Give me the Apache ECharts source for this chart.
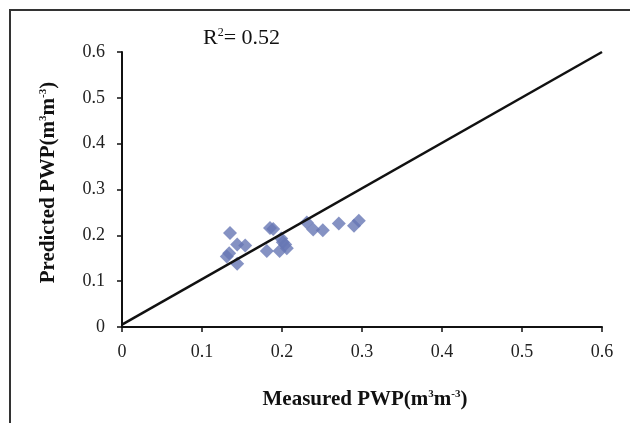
<!DOCTYPE html>
<html>
<head>
<meta charset="utf-8">
<script src="https://cdn.jsdelivr.net/npm/echarts@6/dist/echarts.min.js"></script>
<style>html,body{margin:0;padding:0;background:#fff}#c{width:630px;height:423px}</style>
</head>
<body>
<div id="c"></div>
<script>
var measured = [0.135,0.144,0.154,0.134,0.131,0.144,0.185,0.181,0.201,0.197,0.206,0.204,0.231,0.239,0.251,0.271,0.290,0.296,0.189,0.199];
var predicted = [0.205,0.180,0.178,0.161,0.154,0.138,0.216,0.166,0.185,0.166,0.172,0.180,0.228,0.213,0.211,0.226,0.221,0.232,0.214,0.193];
var oneToOneX = [0, 0.6];
var oneToOneY = [0.005, 0.6];
var ticks = [0, 0.1, 0.2, 0.3, 0.4, 0.5, 0.6];
var r2Text = '0.52';

var pts = measured.map(function(v,i){return [v, predicted[i]];});
var linePts = oneToOneX.map(function(v,i){return [v, oneToOneY[i]];});
var serif = '"Liberation Serif","DejaVu Serif",serif';
var chart = echarts.init(document.getElementById('c'), null, {renderer:'canvas'});
chart.setOption({
  animation:false,
  backgroundColor:'#fff',
  title:{
    text:'R{sup|2}= ' + r2Text,
    left:198, top:22,
    textStyle:{fontFamily:serif, fontSize:22, fontWeight:'normal', color:'#111',
      rich:{sup:{fontFamily:serif, fontSize:12, verticalAlign:'top', padding:[0,0,11,0], color:'#111'}}}
  },
  graphic:[{type:'rect', shape:{x:10,y:10,width:640,height:440}, style:{fill:'none', stroke:'#333', lineWidth:2}, silent:true}],
  grid:{left:122, right:28, top:52, bottom:96},
  xAxis:{
    type:'value', min:0, max:0.6, interval:0.1,
    name:'Measured PWP(m{s|3}m{s|-3})', nameLocation:'middle', nameGap:62,
    nameTextStyle:{fontFamily:serif, fontSize:21, fontWeight:'bold', color:'#111', padding:[0,0,0,6],
      rich:{s:{fontFamily:serif, fontSize:11, fontWeight:'bold', verticalAlign:'top', padding:[0,0,11,0], color:'#111'}}},
    axisLine:{lineStyle:{color:'#111', width:2}},
    axisTick:{show:true, inside:false, length:5, lineStyle:{color:'#111', width:1.5}},
    axisLabel:{fontFamily:serif, fontSize:18, color:'#222', margin:16, formatter:function(v){return String(Math.round(v*10)/10);}},
    splitLine:{show:false}
  },
  yAxis:{
    type:'value', min:0, max:0.6, interval:0.1,
    name:'Predicted PWP(m{s|3}m{s|-3})', nameLocation:'middle', nameGap:62, nameRotate:90,
    nameTextStyle:{fontFamily:serif, fontSize:21, fontWeight:'bold', color:'#111', padding:[0,0,0,14],
      rich:{s:{fontFamily:serif, fontSize:11, fontWeight:'bold', verticalAlign:'top', padding:[0,0,11,0], color:'#111'}}},
    axisLine:{show:true, lineStyle:{color:'#111', width:2}},
    axisTick:{show:true, inside:false, length:5, lineStyle:{color:'#111', width:1.5}},
    axisLabel:{fontFamily:serif, fontSize:18, color:'#222', margin:17, formatter:function(v){return String(Math.round(v*10)/10);}},
    splitLine:{show:false}
  },
  series:[
    {type:'line', data:linePts, symbol:'none', lineStyle:{color:'#111', width:2.5}, z:3},
    {type:'scatter', data:pts, symbol:'diamond', symbolSize:14, itemStyle:{color:'#6677b4'}, z:2}
  ]
});
</script>
</body>
</html>
